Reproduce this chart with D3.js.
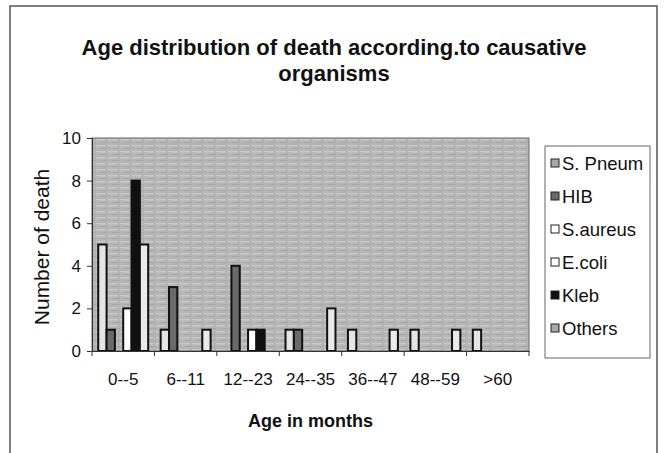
<!DOCTYPE html>
<html>
<head>
<meta charset="utf-8">
<script src="https://cdn.jsdelivr.net/npm/d3@7"></script>
<style>
  body { margin: 0; background: #fff; }
  text { font-family: "Liberation Sans", Arial, sans-serif; fill: #111; }
</style>
</head>
<body>
<svg id="chart" width="664" height="453"></svg>
<script>
const ageGroups = ["0--5", "6--11", "12--23", "24--35", "36--47", "48--59", ">60"];
const organisms = ["S. Pneum", "HIB", "S.aureus", "E.coli", "Kleb", "Others"];
const sPneum  = [5, 1, 0, 1, 1, 1, 1];
const hib     = [1, 3, 4, 1, 0, 0, 0];
const sAureus = [0, 0, 0, 0, 0, 0, 0];
const eColi   = [2, 0, 1, 0, 0, 0, 0];
const kleb    = [8, 0, 1, 0, 0, 0, 0];
const others  = [5, 1, 0, 2, 1, 1, 0];
const yTicks  = [0, 2, 4, 6, 8, 10];

const seriesValues = [sPneum, hib, sAureus, eColi, kleb, others];
const fills = ["#e4e4e4", "#6a6a6a", "#ffffff", "#ffffff", "#111111", "#e9e9e9"];

const svg = d3.select("#chart");
const plot = { left: 92, right: 529, top: 138, bottom: 351 };

// outer chart frame
svg.append("rect")
  .attr("x", 10).attr("y", 6).attr("width", 647).attr("height", 460)
  .attr("fill", "none").attr("stroke", "#555").attr("stroke-width", 1.5);

// streaky grey background like the scanned texture
const defs = svg.append("defs");
const pat = defs.append("pattern")
  .attr("id", "bgtex").attr("patternUnits", "userSpaceOnUse")
  .attr("width", 12).attr("height", 6);
pat.append("rect").attr("width", 12).attr("height", 6).attr("fill", "#b5b5b5");
pat.append("rect").attr("y", 1).attr("width", 9).attr("height", 1.5).attr("fill", "#c8c8c8");
pat.append("rect").attr("x", 4).attr("y", 4).attr("width", 8).attr("height", 1).attr("fill", "#a8a8a8");

svg.append("rect")
  .attr("x", plot.left).attr("y", plot.top)
  .attr("width", plot.right - plot.left).attr("height", plot.bottom - plot.top)
  .attr("fill", "url(#bgtex)").attr("stroke", "#666").attr("stroke-width", 1);

const x0 = d3.scaleBand().domain(ageGroups).range([plot.left, plot.right]).padding(0);
const x1 = d3.scaleBand().domain(organisms).range([0, x0.bandwidth()])
  .paddingInner(0).paddingOuter(0.75);
const y = d3.scaleLinear().domain([0, 10]).range([plot.bottom, plot.top]);

// bars
const rows = [];
organisms.forEach((org, i) => {
  ageGroups.forEach((age, j) => {
    rows.push({ org, age, value: seriesValues[i][j], fill: fills[i] });
  });
});

svg.append("g").selectAll("rect")
  .data(rows.filter(d => d.value > 0))
  .join("rect")
  .attr("x", d => x0(d.age) + x1(d.org))
  .attr("y", d => y(d.value))
  .attr("width", x1.bandwidth())
  .attr("height", d => y(0) - y(d.value))
  .attr("fill", d => d.fill)
  .attr("stroke", "#111")
  .attr("stroke-width", 2);

// y axis
const yAxis = svg.append("g")
  .attr("transform", `translate(${plot.left},0)`)
  .call(d3.axisLeft(y).tickValues(yTicks).tickSize(5).tickPadding(6));
yAxis.selectAll("text").style("font-size", "17px").attr("fill", "#111");
yAxis.selectAll("line, path").attr("stroke", "#333");

// x axis: ticks at category boundaries
const xAxis = svg.append("g")
  .attr("transform", `translate(0,${plot.bottom})`)
  .call(d3.axisBottom(x0).tickSize(0).tickPadding(22));
xAxis.selectAll("text").style("font-size", "17px").attr("fill", "#111");
xAxis.select("path").attr("stroke", "#333");
xAxis.selectAll(".bound")
  .data(ageGroups.concat([null]))
  .join("line")
  .attr("class", "bound")
  .attr("x1", (d, i) => plot.left + i * x0.step())
  .attr("x2", (d, i) => plot.left + i * x0.step())
  .attr("y1", 0).attr("y2", 5)
  .attr("stroke", "#333");

// titles
const title = svg.append("text")
  .attr("text-anchor", "middle")
  .style("font-size", "22px").style("font-weight", "bold");
title.append("tspan").attr("x", 334).attr("y", 55).text("Age distribution of death according.to causative");
title.append("tspan").attr("x", 334).attr("y", 81).text("organisms");

svg.append("text")
  .attr("x", (plot.left + plot.right) / 2).attr("y", 427)
  .attr("text-anchor", "middle")
  .style("font-size", "18px").style("font-weight", "bold")
  .text("Age in months");

svg.append("text")
  .attr("transform", "translate(49,247) rotate(-90)")
  .attr("text-anchor", "middle")
  .style("font-size", "21px")
  .text("Number of death");

// legend
const legend = svg.append("g");
legend.append("rect")
  .attr("x", 545).attr("y", 146).attr("width", 105).attr("height", 212)
  .attr("fill", "#fff").attr("stroke", "#666").attr("stroke-width", 1);
const items = legend.selectAll("g.item")
  .data(organisms)
  .join("g")
  .attr("class", "item")
  .attr("transform", (d, i) => `translate(551,${163 + i * 33})`);
items.append("rect")
  .attr("x", 0).attr("y", -4).attr("width", 8).attr("height", 8)
  .attr("fill", (d, i) => i === 0 || i === 5 ? "#a8a8a8" : fills[i])
  .attr("stroke", "#222").attr("stroke-width", 1);
items.append("text")
  .attr("x", 11).attr("y", 6.5)
  .style("font-size", "18.5px")
  .text(d => d);
</script>
</body>
</html>
